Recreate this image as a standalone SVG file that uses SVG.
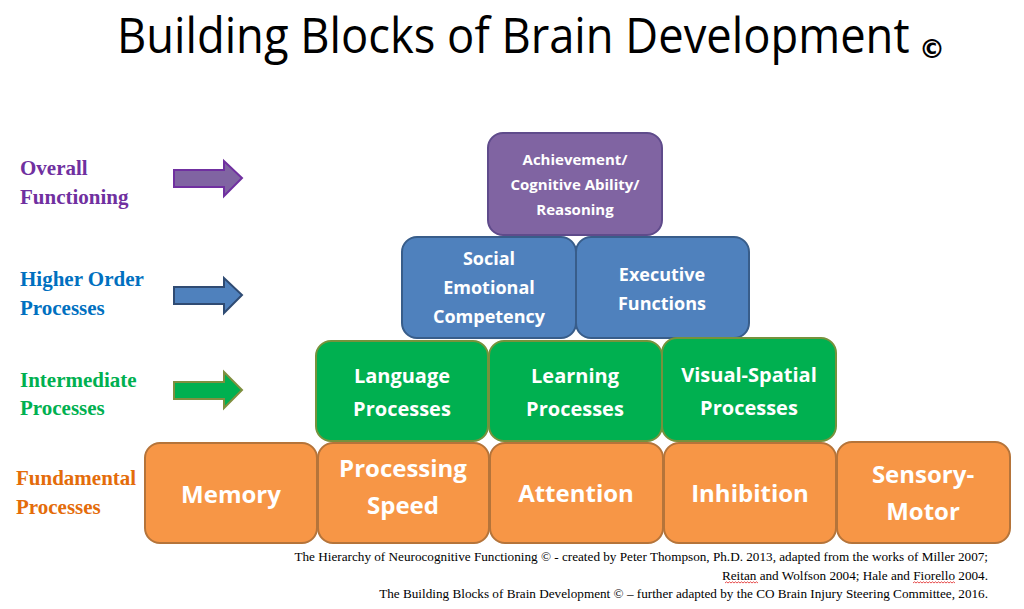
<svg xmlns="http://www.w3.org/2000/svg" width="1024" height="609" viewBox="0 0 1024 609">
<style>
.box{stroke-width:2}
.purple{fill:#8064A2;stroke:#5F4B8B}
.blue{fill:#4F81BD;stroke:#385D8A}
.green{fill:#00B050;stroke:#76923C}
.orange{fill:#F79646;stroke:#B5743A}
.bt{font-family:"Open Sans","DejaVu Sans",sans-serif;font-weight:bold;fill:#FFFFFF;text-anchor:middle}
.lbl{font-family:"Liberation Serif","Times New Roman",serif;font-weight:bold;font-size:21px}
.foot{font-family:"Liberation Serif","Times New Roman",serif;font-size:13.2px;fill:#000;text-anchor:end}
.sq{fill:none;stroke:#E02020;stroke-width:0.8}
</style>
<rect width="1024" height="609" fill="#FFFFFF"/>
<g id="title">
<text transform="translate(117,52.5) scale(0.925,1)" x="0" y="0" font-family="Open Sans,DejaVu Sans,sans-serif" font-size="49" fill="#000">Building Blocks of Brain Development</text>
<text x="932" y="58" font-family="DejaVu Sans,sans-serif" font-size="26" font-weight="bold" text-anchor="middle" fill="#000">©</text>
</g>
<g id="labels">
<g id="label-overall" fill="#7030A0"><text class="lbl" x="20" y="175">Overall</text><text class="lbl" x="20" y="204">Functioning</text></g>
<g id="label-higher" fill="#0070C0"><text class="lbl" x="20" y="286">Higher Order</text><text class="lbl" x="20" y="315">Processes</text></g>
<g id="label-intermediate" fill="#00B050"><text class="lbl" x="20" y="387">Intermediate</text><text class="lbl" x="20" y="415">Processes</text></g>
<g id="label-fundamental" fill="#E46C0A"><text class="lbl" x="16" y="485">Fundamental</text><text class="lbl" x="16" y="514">Processes</text></g>
</g>
<g id="connectors" stroke-width="2" stroke-linejoin="miter">
<polygon points="174,170 224,170 224,161 242,178 224,196 224,187 174,187" fill="#8064A2" stroke="#7030A0"/>
<polygon points="174,287 224,287 224,278 242,295 224,313 224,304 174,304" fill="#4F81BD" stroke="#2F4B73"/>
<polygon points="174,382 224,382 224,372 242,390 224,408 224,399 174,399" fill="#00B050" stroke="#7F8F3F"/>
</g>
<g id="node-achievement"><rect class="box purple" x="488" y="133" width="174" height="102" rx="15"/>
<text class="bt" font-size="15"><tspan x="575" y="165">Achievement/</tspan><tspan x="575" y="190">Cognitive Ability/</tspan><tspan x="575" y="215">Reasoning</tspan></text></g>
<g id="node-social"><rect class="box blue" x="402" y="237" width="174" height="101" rx="15"/>
<text class="bt" font-size="18"><tspan x="489" y="265">Social</tspan><tspan x="489" y="294">Emotional</tspan><tspan x="489" y="323">Competency</tspan></text></g>
<g id="node-executive"><rect class="box blue" x="576" y="237" width="173" height="101" rx="15"/>
<text class="bt" font-size="18"><tspan x="662" y="281">Executive</tspan><tspan x="662" y="310">Functions</tspan></text></g>
<g id="node-language"><rect class="box green" x="316" y="341" width="172" height="100" rx="15"/>
<text class="bt" font-size="20"><tspan x="402" y="383">Language</tspan><tspan x="402" y="416">Processes</tspan></text></g>
<g id="node-learning"><rect class="box green" x="489" y="341" width="173" height="100" rx="15"/>
<text class="bt" font-size="20"><tspan x="575" y="383">Learning</tspan><tspan x="575" y="416">Processes</tspan></text></g>
<g id="node-visual"><rect class="box green" x="662" y="338" width="174" height="103" rx="15"/>
<text class="bt" font-size="20"><tspan x="749" y="382">Visual-Spatial</tspan><tspan x="749" y="415">Processes</tspan></text></g>
<g id="node-memory"><rect class="box orange" x="145" y="443" width="172" height="100" rx="15"/>
<text class="bt" font-size="24" x="231" y="503">Memory</text></g>
<g id="node-processing"><rect class="box orange" x="318" y="443" width="171" height="100" rx="15"/>
<text class="bt" font-size="24"><tspan x="403" y="477">Processing</tspan><tspan x="403" y="514">Speed</tspan></text></g>
<g id="node-attention"><rect class="box orange" x="490" y="443" width="173" height="100" rx="15"/>
<text class="bt" font-size="24" x="576" y="502">Attention</text></g>
<g id="node-inhibition"><rect class="box orange" x="664" y="443" width="172" height="100" rx="15"/>
<text class="bt" font-size="24" x="750" y="502">Inhibition</text></g>
<g id="node-sensory"><rect class="box orange" x="837" y="442" width="173" height="101" rx="15"/>
<text class="bt" font-size="24"><tspan x="923" y="483">Sensory-</tspan><tspan x="923" y="520">Motor</tspan></text></g>
<g id="footnote">
<text class="foot" x="988" y="561">The Hierarchy of Neurocognitive Functioning © - created by Peter Thompson, Ph.D. 2013, adapted from the works of Miller 2007;</text>
<text class="foot" x="988" y="580">Reitan and Wolfson 2004; Hale and Fiorello 2004.</text>
<text class="foot" x="988" y="598">The Building Blocks of Brain Development © – further adapted by the CO Brain Injury Steering Committee, 2016.</text>
<path class="sq" d="M725,583 l1.5,-1.2 l1.5,1.2 l1.5,-1.2 l1.5,1.2 l1.5,-1.2 l1.5,1.2 l1.5,-1.2 l1.5,1.2 l1.5,-1.2 l1.5,1.2 l1.5,-1.2 l1.5,1.2 l1.5,-1.2 l1.5,1.2 l1.5,-1.2 l1.5,1.2 l1.5,-1.2 l1.5,1.2 l1.5,-1.2 l1.5,1.2 l1.5,-1.2 l1.5,1.2"/>
<path class="sq" d="M913,583 l1.5,-1.2 l1.5,1.2 l1.5,-1.2 l1.5,1.2 l1.5,-1.2 l1.5,1.2 l1.5,-1.2 l1.5,1.2 l1.5,-1.2 l1.5,1.2 l1.5,-1.2 l1.5,1.2 l1.5,-1.2 l1.5,1.2 l1.5,-1.2 l1.5,1.2 l1.5,-1.2 l1.5,1.2 l1.5,-1.2 l1.5,1.2 l1.5,-1.2 l1.5,1.2 l1.5,-1.2 l1.5,1.2 l1.5,-1.2 l1.5,1.2 l1.5,-1.2 l1.5,1.2"/>
</g>
</svg>
